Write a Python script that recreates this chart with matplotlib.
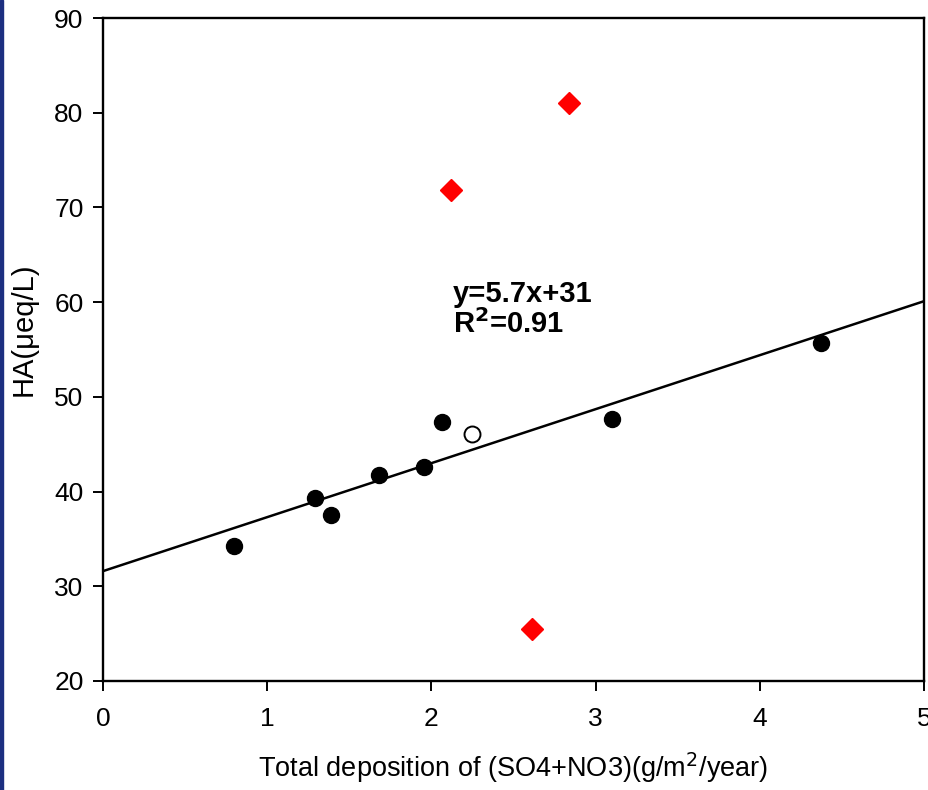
import matplotlib.pyplot as plt
import numpy as np
from matplotlib.patches import Rectangle

plt.rcParams['font.family'] = ['Liberation Sans', 'DejaVu Sans']

# filled circles
dep = [0.80, 1.29, 1.39, 1.68, 1.955, 2.065, 3.10, 4.37]
ha = [34.3, 39.3, 37.5, 41.7, 42.6, 47.3, 47.7, 55.7]
# open circle
dep_open = [2.25]
ha_open = [46.1]
# red diamonds (outliers)
dep_out = [2.12, 2.84, 2.61]
ha_out = [71.8, 81.0, 25.5]

slope = 5.7
intercept = 31.6

fig = plt.figure(figsize=(9.29, 7.9), dpi=100)
ax = fig.add_axes([103/929, 1-681/790, (924-103)/929, (681-18)/790])

xl = np.array([0, 5])
ax.plot(xl, slope*xl + intercept, color='black', lw=1.8, zorder=2)
ax.plot(dep, ha, 'o', color='black', ms=11.5, zorder=3)
ax.plot(dep_open, ha_open, 'o', mfc='white', mec='black', mew=1.4, ms=11.5, zorder=3)
ax.plot(dep_out, ha_out, 'D', color='red', ms=11, zorder=3)

ax.text(2.13, 60.0, 'y=5.7x+31', fontsize=21, fontweight='bold')
ax.text(2.13, 56.7, r'R$^{\mathbf{2}}$=0.91', fontsize=21, fontweight='bold')

ax.set_xlim(0, 5)
ax.set_ylim(20, 90)
ax.set_xticks([0, 1, 2, 3, 4, 5])
ax.set_yticks(range(20, 91, 10))
ax.tick_params(direction='out', length=7, width=1.4, labelsize=19)
ax.tick_params(axis='x', pad=12)
ax.tick_params(axis='y', pad=7)
for s in ax.spines.values():
    s.set_linewidth(1.7)

ax.set_xlabel('Total deposition of (SO4+NO3)(g/m$^2$/year)', fontsize=19.5, labelpad=14)
ax.set_ylabel('HA(μeq/L)', fontsize=21)
ax.yaxis.set_label_coords(-0.08, 0.53)

fig.patches.append(Rectangle((0, 0), 3/929, 1, transform=fig.transFigure,
                             color='#1c2f80', zorder=10))

fig.savefig('out.png', dpi=100)
